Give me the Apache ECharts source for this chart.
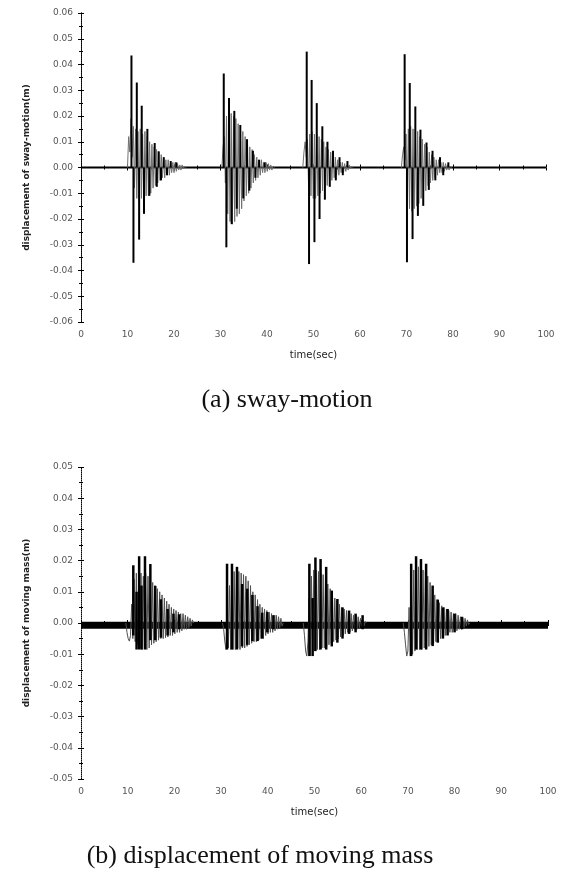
<!DOCTYPE html>
<html>
<head>
<meta charset="utf-8" />
<style>
  html, body { margin: 0; padding: 0; background: #fff; }
  #chart { width: 563px; height: 872px; }
</style>
<script src="https://cdn.jsdelivr.net/npm/echarts@6.0.0/dist/echarts.min.js"></script>
</head>
<body>
<div id="chart"></div>
<script type="text/javascript">
// sample step of the dense traces (sec)
var dt = 0.25;

// ---- (a) sway-motion ----
var swayStart = [10.0, 30.3, 47.7, 68.9];
var swayBurst1 = [0, 0.012, 0.006, 0.019, 0.004, 0.016, -0.008, 0.015, -0.012, 0.014, -0.013, 0.015, -0.012, 0.013, -0.013, 0.014, -0.011, 0.012, -0.011, 0.010, -0.010, 0.009, -0.008, 0.008, -0.007, 0.007, -0.006, 0.006, -0.005, 0.005, -0.004, 0.004, -0.004, 0.003, -0.003, 0.003, -0.003, 0.002, -0.002, 0.002, -0.002, 0.002, -0.0015, 0.0015, -0.001, 0.001, -0.001, 0.001, -0.0005, 0.0005, 0];
var swayBurst2 = [0, 0.008, 0.012, -0.006, 0.02, -0.018, 0.022, -0.021, 0.021, -0.022, 0.02, -0.021, 0.019, -0.019, 0.017, -0.018, 0.015, -0.016, 0.014, -0.013, 0.012, -0.011, 0.01, -0.01, 0.008, -0.008, 0.007, -0.006, 0.005, -0.005, 0.004, -0.004, 0.003, -0.003, 0.003, -0.002, 0.002, -0.002, 0.002, -0.0015, 0.0015, -0.001, 0.001, -0.001, 0.0005, 0];
var swayBurst3 = [0, 0.006, 0.01, 0.004, 0.011, -0.008, 0.013, -0.011, 0.014, -0.012, 0.013, -0.012, 0.013, -0.011, 0.012, -0.01, 0.011, -0.009, 0.01, -0.008, 0.008, -0.007, 0.007, -0.006, 0.006, -0.005, 0.005, -0.004, 0.004, -0.003, 0.003, -0.003, 0.002, -0.002, 0.002, -0.002, 0.0015, -0.0015, 0.001, -0.001, 0.001, -0.0005, 0.0005, 0];
var swayBurst4 = [0, 0.005, 0.008, 0.003, 0.013, -0.012, 0.015, -0.016, 0.016, -0.017, 0.015, -0.016, 0.015, -0.015, 0.014, -0.014, 0.012, -0.012, 0.011, -0.01, 0.009, -0.009, 0.008, -0.007, 0.006, -0.006, 0.005, -0.005, 0.004, -0.004, 0.003, -0.003, 0.003, -0.002, 0.002, -0.002, 0.002, -0.0015, 0.0015, -0.001, 0.001, -0.001, 0.0005, 0];
var swaySpikeT = [10.85, 11.28, 12.0, 12.5, 13.06, 13.55, 14.27, 14.7, 15.85, 16.3, 16.7, 17.2, 17.8, 18.5, 19.3, 20.5,
  30.7, 31.26, 31.83, 32.4, 32.97, 33.5, 34.26, 34.9, 35.7, 36.2, 36.97, 37.5, 38.3, 39.5,
  48.54, 49.04, 49.6, 50.2, 50.7, 51.3, 51.9, 52.45, 53.0, 53.5, 54.2, 54.8, 55.6, 56.3, 57.3,
  69.6, 70.1, 70.7, 71.3, 71.9, 72.45, 73.0, 73.6, 74.3, 74.8, 75.6, 76.2, 77.2, 77.9, 79.0];
var swaySpikeV = [0.0435, -0.037, 0.033, -0.028, 0.024, -0.018, 0.015, -0.011, 0.0095, -0.0075, 0.0063, -0.005, 0.004, -0.003, 0.0025, 0.002,
  0.0365, -0.031, 0.027, -0.022, 0.022, -0.016, 0.0165, -0.012, 0.011, -0.009, 0.0065, -0.004, 0.003, 0.002,
  0.045, -0.0375, 0.034, -0.029, 0.025, -0.020, 0.016, -0.0125, 0.010, -0.0075, 0.0065, -0.005, 0.004, -0.003, 0.0025,
  0.044, -0.0368, 0.0328, -0.0278, 0.0237, -0.0188, 0.0147, -0.0149, 0.0097, -0.0087, 0.0065, -0.005, 0.004, -0.003, 0.002];

// ---- (b) displacement of moving mass ----
var massStart = [9.6, 30.3, 47.6, 69.0];
var massBurst1 = [0, -0.003, -0.005, -0.0058, -0.004, 0.006, -0.005, 0.014, -0.006, 0.016, -0.007, 0.015, -0.008, 0.016, -0.0085, 0.015, -0.008, 0.016, -0.0085, 0.015, -0.008, 0.014, -0.007, 0.013, -0.0065, 0.012, -0.006, 0.011, -0.0055, 0.01, -0.005, 0.009, -0.005, 0.008, -0.0047, 0.007, -0.0045, 0.006, -0.004, 0.005, -0.004, 0.0045, -0.0035, 0.004, -0.003, 0.0035, -0.003, 0.003, -0.0025, 0.003, -0.002, 0.0025, -0.002, 0.002, -0.0015, 0.0015, -0.001, 0.001, 0];
var massBurst2 = [0, -0.002, -0.006, -0.0085, 0.004, -0.008, 0.012, -0.0085, 0.016, -0.0085, 0.0165, -0.0085, 0.016, -0.008, 0.0165, -0.0085, 0.016, -0.008, 0.0155, -0.008, 0.015, -0.0075, 0.0135, -0.007, 0.012, -0.0065, 0.01, -0.006, 0.009, -0.006, 0.0075, -0.0055, 0.006, -0.005, 0.005, -0.005, 0.0045, -0.004, 0.004, -0.0035, 0.0035, -0.003, 0.003, -0.003, 0.0025, -0.0025, 0.0025, -0.002, 0.002, -0.0015, 0.0015, -0.001, 0];
var massBurst3 = [0, -0.004, -0.009, -0.0106, -0.006, 0.008, -0.0105, 0.015, -0.0095, 0.017, -0.009, 0.017, -0.0085, 0.0165, -0.0085, 0.016, -0.008, 0.0155, -0.008, 0.014, -0.0075, 0.0125, -0.007, 0.011, -0.0065, 0.0095, -0.006, 0.008, -0.0055, 0.007, -0.005, 0.006, -0.0045, 0.005, -0.004, 0.0045, -0.0035, 0.004, -0.003, 0.0035, -0.003, 0.003, -0.0025, 0.0025, -0.002, 0.0025, -0.002, 0.002, -0.0015, 0.0015, -0.001, 0.001, -0.001, 0.0005, 0];
var massBurst4 = [0, -0.003, -0.007, -0.0106, -0.009, 0.005, -0.0106, 0.013, -0.01, 0.017, -0.009, 0.018, -0.0085, 0.018, -0.0085, 0.0175, -0.0085, 0.017, -0.008, 0.0165, -0.008, 0.015, -0.0075, 0.013, -0.007, 0.011, -0.0065, 0.009, -0.006, 0.0075, -0.0055, 0.0065, -0.005, 0.0055, -0.0045, 0.005, -0.004, 0.0045, -0.0035, 0.004, -0.003, 0.0035, -0.003, 0.003, -0.0025, 0.003, -0.0025, 0.0025, -0.002, 0.002, -0.002, 0.0015, -0.0015, 0.0015, -0.001, 0.001, -0.0005, 0];
var massSpikeT = [11.2, 11.9, 12.45, 12.95, 13.7, 14.85, 15.9, 17.1, 18.55, 19.8, 21.0,
  31.27, 32.33, 33.4, 34.5, 35.6, 36.7, 37.8, 38.8, 39.9, 41.2,
  48.9, 49.6, 50.2, 51.3, 52.5, 53.7, 54.9, 56.0, 57.4, 58.8, 60.3,
  70.7, 71.75, 72.8, 73.9, 75.3, 76.4, 77.5, 78.5, 80.0, 81.6];
var massSpikeHi = [0.0185, 0.010, 0.0214, 0.012, 0.0214, 0.0189, 0.0119, 0.0076, 0.0045, 0.003, 0.0028,
  0.019, 0.019, 0.018, 0.0125, 0.011, 0.009, 0.0054, 0.0033, 0.0035, 0.0025,
  0.019, 0.008, 0.021, 0.0205, 0.018, 0.0104, 0.0077, 0.005, 0.004, 0.003, 0.0025,
  0.019, 0.0214, 0.0205, 0.019, 0.012, 0.0075, 0.005, 0.0045, 0.003, 0.002];
var massSpikeLo = [-0.004, -0.0085, -0.0085, -0.0085, -0.0085, -0.0055, -0.0055, -0.0047, -0.004, -0.003, -0.002,
  -0.0085, -0.0085, -0.0085, -0.0075, -0.007, -0.0058, -0.0058, -0.005, -0.003, -0.002,
  -0.0106, -0.0106, -0.009, -0.0085, -0.0085, -0.0075, -0.0063, -0.005, -0.0035, -0.003, -0.002,
  -0.0106, -0.0085, -0.0085, -0.0085, -0.0074, -0.0063, -0.005, -0.004, -0.003, -0.002];
var massBaseLevel = -0.0007;

var captionA = '(a) sway-motion';
var captionB = '(b) displacement of moving mass';

function denseData(starts, bursts) {
  var out = [];
  starts.forEach(function (t0, k) {
    bursts[k].forEach(function (v, i) { out.push([t0 + i * dt, v]); });
    out.push([t0 + bursts[k].length * dt, '-']);
  });
  return out;
}
function pairs(ts, vs) {
  return ts.map(function (t, i) { return [t, vs[i]]; });
}

var tickFont = { fontSize: 9, color: '#555', fontFamily: 'DejaVu Sans' };
var dotted = { color: '#000', width: 1, type: 'dotted' };

function xAx(grid, pos, showLine, showLabel) {
  return {
    type: 'value', gridIndex: grid, position: pos, min: 0, max: 100, interval: 10,
    name: showLabel ? 'time(sec)' : '', nameLocation: 'middle', nameGap: 28,
    nameTextStyle: { fontSize: 10, color: '#222', fontFamily: 'DejaVu Sans' },
    axisLine: { show: showLine, lineStyle: dotted },
    axisTick: { show: true, inside: true, length: 3, lineStyle: { color: '#000' } },
    minorTick: { show: true, splitNumber: 2, length: 2, lineStyle: { color: '#000' } },
    axisLabel: Object.assign({ show: showLabel, margin: 8 }, tickFont),
    splitLine: { show: false }
  };
}
function yAx(grid, pos, lim, showLine, name) {
  return {
    type: 'value', gridIndex: grid, position: pos, min: -lim, max: lim, interval: 0.01,
    name: name, nameLocation: 'middle', nameGap: 50,
    nameTextStyle: { fontSize: 9, color: '#222', fontWeight: 'bold', fontFamily: 'DejaVu Sans' },
    axisLine: { show: showLine, lineStyle: dotted },
    axisTick: { show: true, inside: true, length: 3, lineStyle: { color: '#000' } },
    minorTick: { show: true, splitNumber: 2, length: 2, lineStyle: { color: '#000' } },
    axisLabel: Object.assign({
      show: !!name, margin: 8,
      formatter: function (v) { return (Math.abs(v) < 1e-9 ? 0 : v).toFixed(2); }
    }, tickFont),
    splitLine: { show: false }
  };
}

var chart = echarts.init(document.getElementById('chart'), null, { renderer: 'canvas' });
var option = {
  animation: false,
  backgroundColor: '#fff',
  grid: [
    { left: 81, top: 13, width: 465, height: 309 },
    { left: 81, top: 467, width: 467, height: 312 }
  ],
  xAxis: [
    xAx(0, 'bottom', false, true), xAx(0, 'top', false, false),
    xAx(1, 'bottom', true, true), xAx(1, 'top', false, false)
  ],
  yAxis: [
    yAx(0, 'left', 0.06, true, 'displacement of sway-motion(m)'), yAx(0, 'right', 0.06, true, ''),
    yAx(1, 'left', 0.05, false, 'displacement of moving mass(m)'), yAx(1, 'right', 0.05, true, '')
  ],
  graphic: [
    { type: 'text', x: 287, y: 400, silent: true,
      style: { text: captionA, font: '26px "Liberation Serif"', fill: '#111', textAlign: 'center', textVerticalAlign: 'middle' } },
    { type: 'text', x: 260, y: 856, silent: true,
      style: { text: captionB, font: '26px "Liberation Serif"', fill: '#111', textAlign: 'center', textVerticalAlign: 'middle' } }
  ],
  series: [
    // (a)
    { type: 'line', xAxisIndex: 0, yAxisIndex: 0, symbol: 'none', silent: true,
      data: [[0, 0], [100, 0]], lineStyle: { color: '#000', width: 2 }, z: 1 },
    { type: 'line', xAxisIndex: 0, yAxisIndex: 0, symbol: 'none', silent: true, connectNulls: false,
      data: denseData(swayStart, [swayBurst1, swayBurst2, swayBurst3, swayBurst4]),
      lineStyle: { color: '#707070', width: 1 }, z: 2 },
    { type: 'bar', xAxisIndex: 0, yAxisIndex: 0, silent: true, barWidth: 2,
      data: pairs(swaySpikeT, swaySpikeV), itemStyle: { color: '#000' }, z: 3 },
    // (b)
    { type: 'line', xAxisIndex: 2, yAxisIndex: 2, symbol: 'none', silent: true,
      data: [[0, massBaseLevel], [100, massBaseLevel]], lineStyle: { color: '#000', width: 7 }, z: 1 },
    { type: 'line', xAxisIndex: 2, yAxisIndex: 2, symbol: 'none', silent: true, connectNulls: false,
      data: denseData(massStart, [massBurst1, massBurst2, massBurst3, massBurst4]),
      lineStyle: { color: '#505050', width: 1 }, z: 2 },
    { type: 'bar', xAxisIndex: 2, yAxisIndex: 2, silent: true, barWidth: 2.5, barGap: '-100%',
      data: pairs(massSpikeT, massSpikeHi), itemStyle: { color: '#000' }, z: 3 },
    { type: 'bar', xAxisIndex: 2, yAxisIndex: 2, silent: true, barWidth: 2.5, barGap: '-100%',
      data: pairs(massSpikeT, massSpikeLo), itemStyle: { color: '#000' }, z: 3 }
  ]
};
chart.setOption(option);
</script>
</body>
</html>
